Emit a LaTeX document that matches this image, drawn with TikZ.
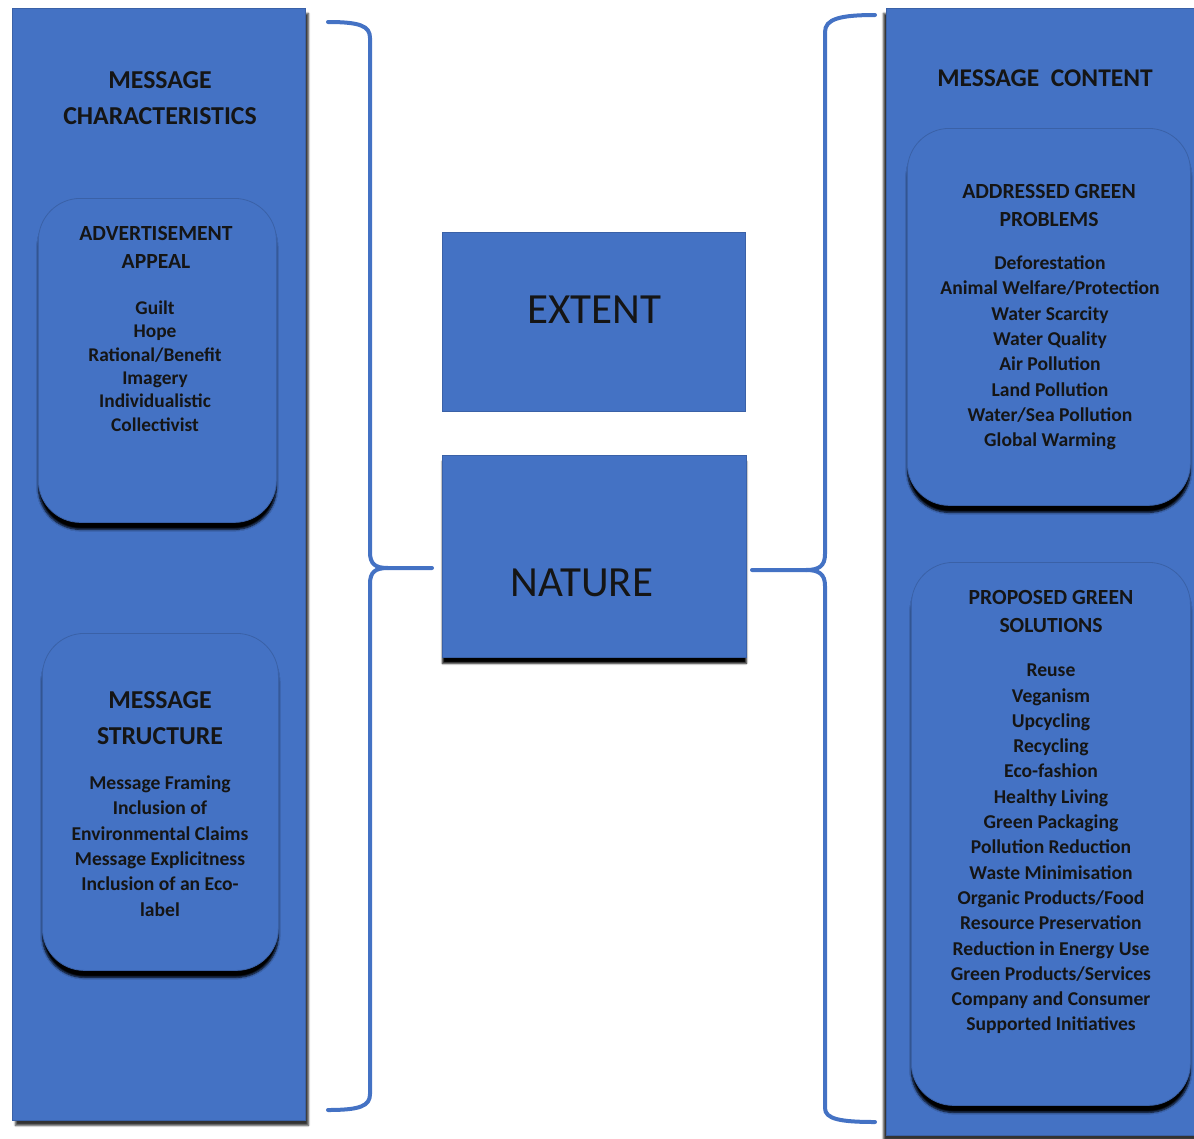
\documentclass[tikz,border=0pt]{standalone}
\usepackage{fontspec}
\setmainfont{Carlito}
\usetikzlibrary{positioning, shadows.blur}
\definecolor{offblue}{HTML}{4472C4}
\definecolor{inkdark}{HTML}{151515}
\tikzset{
    panel/.style  = {fill=offblue, draw=offblue!85!black, line width=0.8pt, anchor=north west,
                     inner sep=0pt, blur shadow={shadow xshift=#1, shadow yshift=-5pt,
                     shadow blur steps=5, shadow opacity=80}},
    pill/.style   = {fill=offblue, draw=offblue!85!black, rounded corners=42pt, line width=0.8pt,
                     anchor=north west, inner sep=0pt, blur shadow={shadow xshift=0pt,
                     shadow yshift=-7pt, shadow blur steps=6, shadow opacity=100}},
    bigbox/.style = {fill=offblue, draw=offblue!85!black, line width=0.8pt, anchor=north west,
                     inner sep=0pt},
    bigword/.style= {font=\fontsize{43}{43}\selectfont, text=inkdark},
    headbig/.style= {font=\fontsize{25.8}{36}\selectfont\bfseries, align=center, text=inkdark},
    headsm/.style = {font=\fontsize{21.6}{28}\selectfont\bfseries, align=center, text=inkdark},
    itemlist/.style = {font=\fontsize{19.6}{25.3}\selectfont\bfseries, align=center, text=inkdark},
    brace/.style  = {draw=offblue, line width=4pt, line cap=round},
}

\begin{document}
\begin{tikzpicture}[x=1pt, y=-1pt]
    \useasboundingbox (0,0) rectangle (1194,1138);

    % left column
    \node[panel=3pt, minimum width=293pt, minimum height=1112pt] (charpanel) at (12,8) {};
    \node[headbig] (chartitle) at (160,98) {MESSAGE\\CHARACTERISTICS};
    \node[pill, minimum width=238pt, minimum height=324pt] (appealbox) at (38,198) {};
    \node[headsm] (appealtitle) at (156,247) {ADVERTISEMENT\\APPEAL};
    \node[itemlist, font=\fontsize{19.4}{23.4}\selectfont\bfseries] (appeallist) at (155,366)
        {Guilt\\Hope\\Rational/Benefit\\Imagery\\Individualistic\\Collectivist};
    \node[pill, minimum width=236pt, minimum height=337pt] (structbox) at (42,633) {};
    \node[headbig] (structtitle) at (160,718) {MESSAGE\\STRUCTURE};
    \node[itemlist] (structlist) at (160,846)
        {Message Framing\\Inclusion of\\Environmental Claims\\Message Explicitness\\Inclusion of an Eco-\\label};

    % middle
    \node[bigbox, minimum width=303pt, minimum height=179pt] (extent) at (442,232) {};
    \node[bigword] (extentlbl) at (594,310) {EXTENT};
    \node[bigbox, minimum width=304pt, minimum height=202pt,
          blur shadow={shadow xshift=0pt, shadow yshift=-6pt, shadow blur steps=4,
          shadow opacity=100}] (nature) at (442,455) {};
    \node[bigword] (naturelbl) at (582,583) {NATURE};

    % right column
    \node[panel=-3pt, minimum width=316pt, minimum height=1127pt] (contpanel) at (886,8) {};
    \node[headsm, font=\fontsize{25.5}{30}\selectfont\bfseries] (conttitle) at (1045,78) {MESSAGE\ \ CONTENT};
    \node[pill, minimum width=283pt, minimum height=377pt] (probbox) at (907,128) {};
    \node[headsm] (probtitle) at (1049,205) {ADDRESSED GREEN\\PROBLEMS};
    \node[itemlist] (problist) at (1050,353)
        {Deforestation\\Animal Welfare/Protection\\Water Scarcity\\Water Quality\\Air Pollution\\Land Pollution\\Water/Sea Pollution\\Global Warming};
    \node[pill, minimum width=279pt, minimum height=543pt] (solbox) at (911,562) {};
    \node[headsm] (soltitle) at (1051,611) {PROPOSED GREEN\\SOLUTIONS};
    \node[itemlist] (sollist) at (1051,849)
        {Reuse\\Veganism\\Upcycling\\Recycling\\Eco-fashion\\Healthy Living\\Green Packaging\\Pollution Reduction\\Waste Minimisation\\Organic Products/Food\\Resource Preservation\\Reduction in Energy Use\\Green Products/Services\\Company and Consumer\\Supported Initiatives};

    % braces
    \coordinate (lbtop) at (328,22);
    \coordinate (lbbot) at (328,1110);
    \coordinate (lbtip) at (432,568);
    \coordinate (rbtop) at (875,15);
    \coordinate (rbbot) at (875,1122);
    \coordinate (rbtip) at (752,570);
    \draw[brace] (lbtip) -- (388,568) .. controls (375,568) and (370,564) .. (370,552)
        -- (370,38) .. controls (370,26) and (360,22) .. (lbtop);
    \draw[brace] (388,568) .. controls (375,568) and (370,572) .. (370,584)
        -- (370,1094) .. controls (370,1106) and (360,1110) .. (lbbot);
    \draw[brace] (rbtip) -- (806,570) .. controls (819,570) and (825,566) .. (825,554)
        -- (825,32) .. controls (825,19) and (840,15) .. (rbtop);
    \draw[brace] (806,570) .. controls (819,570) and (825,574) .. (825,586)
        -- (825,1108) .. controls (825,1119) and (840,1122) .. (rbbot);
\end{tikzpicture}
\end{document}
